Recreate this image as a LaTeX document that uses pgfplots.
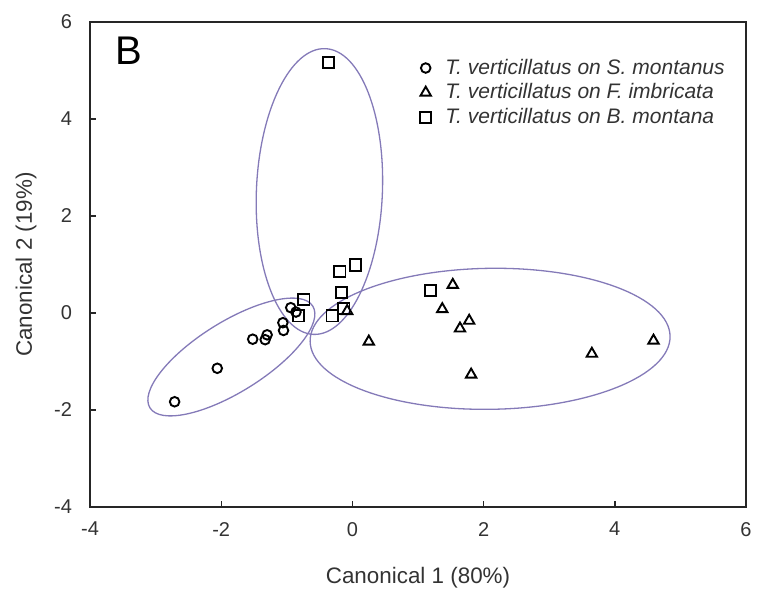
\documentclass[border=0pt]{standalone}
\usepackage{pgfplots}
\pgfplotsset{compat=1.18}
\usepackage{fontspec}
\setmainfont{Liberation Sans}
\definecolor{ellc}{RGB}{132,122,184}
\begin{document}
\begin{tikzpicture}
\useasboundingbox (-45pt,-41.5pt) rectangle (335pt,253.5pt);
\begin{axis}[
  scale only axis,
  width=328pt, height=242.5pt,
  xmin=-4, xmax=6, ymin=-4, ymax=6,
  xtick={-4,-2,0,2,4,6}, ytick={-4,-2,0,2,4,6},
  tick pos=left, tick align=inside,
  major tick length=3pt,
  axis line style={line width=0.9pt, black!85},
  tick style={line width=0.7pt, black!85},
  /pgf/number format/assume math mode=true,
  ticklabel style={font=\fontsize{10}{12}\selectfont, text=black!80},
  xticklabel style={yshift=-4pt},
  yticklabel style={xshift=-5.5pt},
  xlabel={Canonical 1 (80\%)},
  ylabel={Canonical 2 (19\%)},
  label style={font=\fontsize{11.2}{13}\selectfont, text=black!80},
  xlabel style={yshift=-8.5pt},
  ylabel style={yshift=2pt},
  legend cell align=left,
  legend style={at={(axis cs:1.026,5.33)}, anchor=north west, draw=none, fill=none,
    font=\fontsize{10.5}{12}\selectfont\itshape, text=black!80, row sep=-0.8pt,
    inner sep=0pt, /tikz/every odd column/.append style={column sep=5pt}},
  every axis plot/.append style={only marks, black, line width=0.95pt},
]
\addplot[mark=o, mark size=2.4pt] coordinates {
(-2.71,-1.83) (-2.06,-1.14) (-1.52,-0.54) (-1.33,-0.55) (-1.30,-0.45)
(-1.06,-0.20) (-1.05,-0.36) (-0.94,0.11) (-0.86,0.02)
};
\addlegendentry{T. verticillatus on S. montanus}
\addplot[mark=triangle, mark size=3pt] coordinates {
(-0.08,0.04) (0.25,-0.59) (1.37,0.08) (1.53,0.58) (1.64,-0.32)
(1.78,-0.16) (1.81,-1.27) (3.65,-0.84) (4.59,-0.57)
};
\addlegendentry{T. verticillatus on F. imbricata}
\addplot[mark=square, mark size=2.8pt] coordinates {
(-0.36,5.16) (-0.74,0.28) (-0.82,-0.06) (-0.19,0.85) (0.05,0.99)
(-0.17,0.43) (-0.13,0.10) (-0.31,-0.06) (1.19,0.47)
};
\addlegendentry{T. verticillatus on B. montana}
\draw[ellc, line width=0.65pt, rotate around={32:(axis cs:-1.845,-0.907)}]
  (axis cs:-1.845,-0.907) ellipse [x radius=48pt, y radius=17.5pt];
\draw[ellc, line width=0.65pt, rotate around={87.6:(axis cs:-0.503,2.505)}]
  (axis cs:-0.503,2.505) ellipse [x radius=71.5pt, y radius=31.5pt];
\draw[ellc, line width=0.65pt, rotate around={0.8:(axis cs:2.099,-0.532)}]
  (axis cs:2.099,-0.532) ellipse [x radius=90pt, y radius=35.25pt];
\node[anchor=west, inner sep=0pt, font=\fontsize{20}{24}\selectfont] at (axis cs:-3.62,5.41) {B};
\end{axis}
\end{tikzpicture}
\end{document}
